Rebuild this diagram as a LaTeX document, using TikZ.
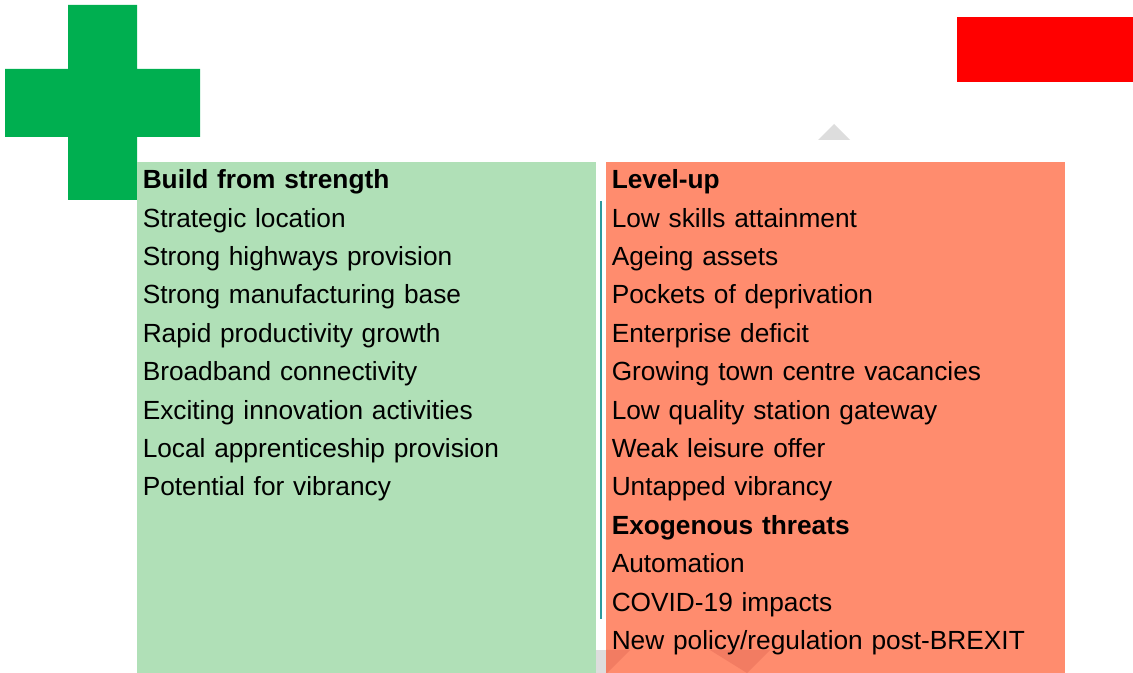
\documentclass[tikz,border=0pt]{standalone}
\usepackage{fontspec}
\setmainfont{Liberation Sans}
\usepackage{tikz}
\usetikzlibrary{positioning}
\definecolor{crossgreen}{HTML}{00AF50}
\definecolor{panelgreen}{HTML}{B0E0B7}
\definecolor{panelred}{HTML}{FF8C6E}
\definecolor{shadered}{HTML}{F27C62}
\definecolor{markgray}{HTML}{DDDDDD}
\definecolor{divteal}{HTML}{2E9A9E}
\tikzstyle{item} = [inner sep=0pt, text width=330pt, align=left, text height=14pt, text depth=4pt, font=\fontsize{19.7}{24}\selectfont]
\tikzstyle{heading} = [item, font=\fontsize{19.7}{24}\selectfont\bfseries]

\begin{document}
\begin{tikzpicture}[x=0.75pt, y=-0.75pt, node distance=28.8pt]
\useasboundingbox (0,0) rectangle (1133,673);
% markers
\fill[crossgreen] (68,5) -- (137,5) -- (137,69) -- (200,69) -- (200,137) -- (137,137) -- (137,200) -- (68,200) -- (68,137) -- (5,137) -- (5,69) -- (68,69) -- cycle;
\fill[red] (957,17) rectangle (1133,82);
\fill[markgray] (818,140) -- (834,124) -- (850,140) -- cycle;

% panels
\fill[panelgreen] (137,162) rectangle (596,673);
\fill[panelred] (606,162) rectangle (1065,673);
\fill[markgray] (596,650) rectangle (606,673);
\fill[shadered] (606,650) -- (630,650) -- (606,674) -- cycle;
\fill[shadered] (710,650) -- (770,650) -- (747,673) -- cycle;
\draw[divteal, line width=1.5pt] (601,201) -- (601,619);

% strengths
\node (hdrS) [heading, anchor=west] at (142.5,182) {Build from strength};
\node (s1) [item, below of=hdrS] {Strategic location};
\node (s2) [item, below of=s1] {Strong highways provision};
\node (s3) [item, below of=s2] {Strong manufacturing base};
\node (s4) [item, below of=s3] {Rapid productivity growth};
\node (s5) [item, below of=s4] {Broadband connectivity};
\node (s6) [item, below of=s5] {Exciting innovation activities};
\node (s7) [item, below of=s6] {Local apprenticeship provision};
\node (s8) [item, below of=s7] {Potential for vibrancy};

% weaknesses and threats
\node (hdrW) [heading, anchor=west] at (611.5,182) {Level-up};
\node (w1) [item, below of=hdrW] {Low skills attainment};
\node (w2) [item, below of=w1] {Ageing assets};
\node (w3) [item, below of=w2] {Pockets of deprivation};
\node (w4) [item, below of=w3] {Enterprise deficit};
\node (w5) [item, below of=w4] {Growing town centre vacancies};
\node (w6) [item, below of=w5] {Low quality station gateway};
\node (w7) [item, below of=w6] {Weak leisure offer};
\node (w8) [item, below of=w7] {Untapped vibrancy};
\node (hdrT) [heading, below of=w8] {Exogenous threats};
\node (t1) [item, below of=hdrT] {Automation};
\node (t2) [item, below of=t1] {COVID-19 impacts};
\node (t3) [item, below of=t2] {New policy/regulation post-BREXIT};
\end{tikzpicture}
\end{document}
